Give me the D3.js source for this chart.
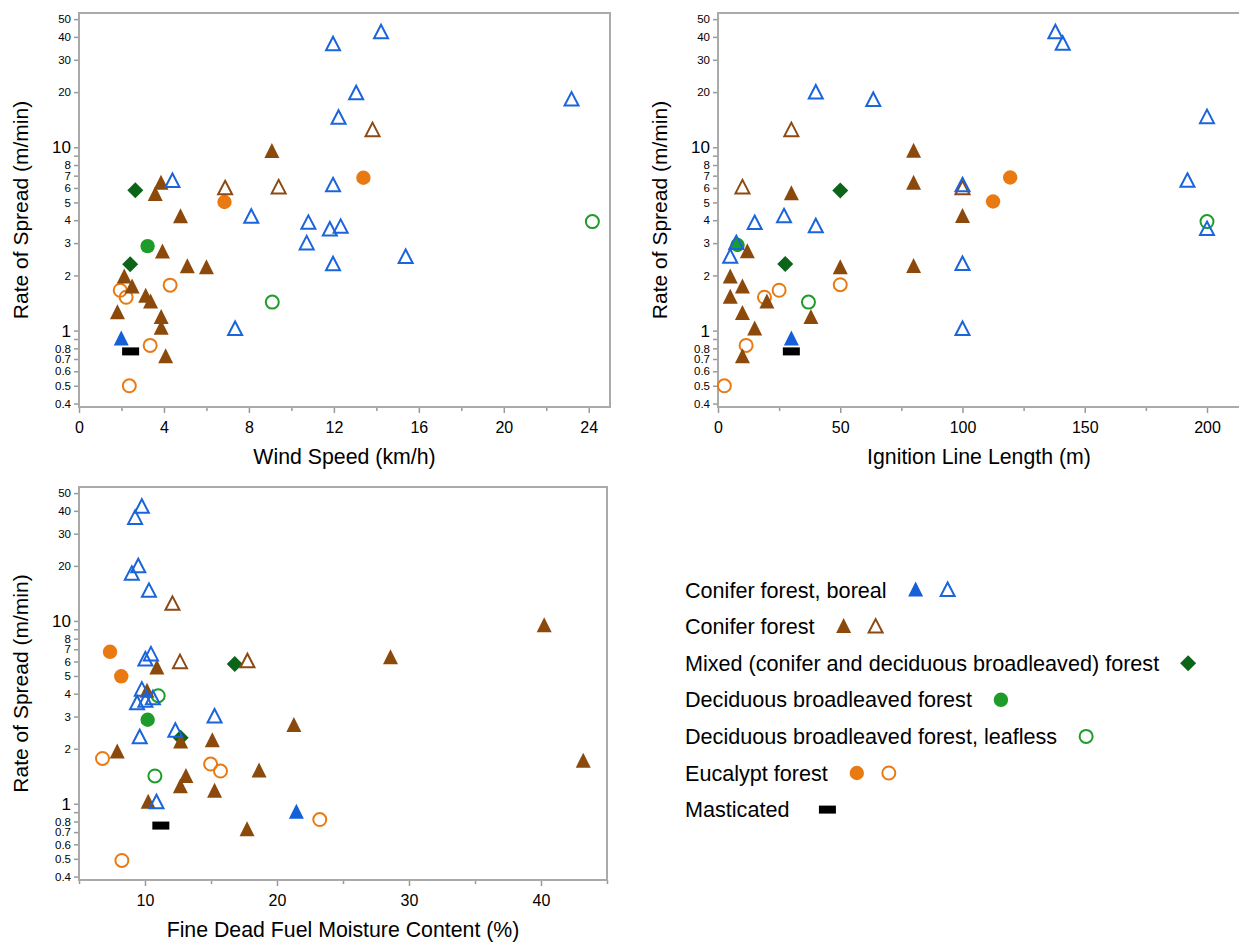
<!DOCTYPE html>
<html>
<head>
<meta charset="utf-8">
<script src="https://cdn.jsdelivr.net/npm/d3@7"></script>
<style>
  body { margin: 0; background: #fff; }
  svg text { font-family: "Liberation Sans", Arial, Helvetica, sans-serif; fill: #000; }
</style>
</head>
<body>
<svg id="chart" width="1239" height="944"></svg>
<script>
// fire observations: [x value, rate of spread (m/min), fuel type code]
const windSpeed = [
  [11.96,36.5,'BO'],[14.22,42.4,'BO'],[13.05,19.7,'BO'],[23.19,18.2,'BO'],[12.22,14.5,'BO'],
  [4.40,6.55,'BO'],[11.96,6.2,'BO'],[8.11,4.18,'BO'],[10.8,3.87,'BO'],[11.81,3.56,'BO'],
  [12.32,3.68,'BO'],[10.72,2.99,'BO'],[11.96,2.30,'BO'],[15.38,2.52,'BO'],[7.35,1.02,'BO'],
  [1.99,0.90,'BF'],
  [9.08,9.47,'CF'],[3.86,6.36,'CF'],[3.59,5.53,'CF'],[4.78,4.18,'CF'],[3.93,2.68,'CF'],
  [5.10,2.23,'CF'],[6.0,2.20,'CF'],[2.13,1.96,'CF'],[2.50,1.73,'CF'],[3.14,1.54,'CF'],
  [3.37,1.43,'CF'],[1.81,1.25,'CF'],[3.87,1.18,'CF'],[3.87,1.03,'CF'],[4.08,0.72,'CF'],
  [13.82,12.4,'CO'],[6.88,5.97,'CO'],[9.40,6.04,'CO'],
  [13.39,6.82,'EF'],[6.85,5.03,'EF'],
  [4.29,1.77,'EO'],[1.94,1.66,'EO'],[2.22,1.52,'EO'],[3.35,0.83,'EO'],[2.37,0.50,'EO'],
  [3.23,2.89,'DB'],
  [9.10,1.43,'DL'],[24.17,3.93,'DL'],
  [2.65,5.82,'MX'],[2.41,2.30,'MX'],
  [2.43,0.77,'MA']
]

const ignitionLength = [
  [138,42.4,'BO'],[141,36.7,'BO'],[40,19.9,'BO'],[63.5,18.1,'BO'],[200,14.6,'BO'],
  [192,6.56,'BO'],[100,6.2,'BO'],[27,4.2,'BO'],[15,3.86,'BO'],[40,3.71,'BO'],
  [200,3.58,'BO'],[7.5,3.0,'BO'],[5,2.53,'BO'],[100,2.31,'BO'],[100,1.02,'BO'],
  [30,0.90,'BF'],
  [80,9.5,'CF'],[80,6.37,'CF'],[30,5.57,'CF'],[100,4.19,'CF'],[12,2.69,'CF'],
  [50,2.2,'CF'],[80,2.24,'CF'],[5,1.96,'CF'],[10,1.73,'CF'],[5,1.52,'CF'],
  [20,1.43,'CF'],[10,1.24,'CF'],[38,1.18,'CF'],[15,1.02,'CF'],[10,0.72,'CF'],
  [30,12.4,'CO'],[10,6.04,'CO'],[100,5.98,'CO'],
  [119.5,6.84,'EF'],[112.5,5.06,'EF'],
  [50,1.78,'EO'],[25,1.66,'EO'],[19,1.52,'EO'],[11.5,0.83,'EO'],[2.6,0.50,'EO'],
  [8,2.93,'DB'],
  [37,1.43,'DL'],[200,3.93,'DL'],
  [50,5.81,'MX'],[27.5,2.31,'MX'],
  [30,0.77,'MA']
]

const fuelMoisture = [
  [9.76,42.1,'BO'],[9.25,36.6,'BO'],[9.49,19.9,'BO'],[9.0,18.1,'BO'],[10.3,14.6,'BO'],
  [10.45,6.56,'BO'],[10.03,6.15,'BO'],[9.76,4.21,'BO'],[10.6,3.78,'BO'],[10.03,3.66,'BO'],
  [9.4,3.55,'BO'],[15.27,3.0,'BO'],[12.3,2.51,'BO'],[9.6,2.31,'BO'],[10.87,1.02,'BO'],
  [21.47,0.90,'BF'],
  [40.24,9.4,'CF'],[28.6,6.28,'CF'],[10.9,5.53,'CF'],[10.15,4.12,'CF'],[21.28,2.68,'CF'],
  [15.1,2.21,'CF'],[12.7,2.18,'CF'],[7.9,1.92,'CF'],[43.2,1.71,'CF'],[18.64,1.51,'CF'],
  [13.1,1.41,'CF'],[12.68,1.24,'CF'],[15.27,1.17,'CF'],[10.24,1.02,'CF'],[17.73,0.72,'CF'],
  [12.08,12.4,'CO'],[12.65,5.95,'CO'],[17.76,6.02,'CO'],
  [7.35,6.78,'EF'],[8.2,4.98,'EF'],
  [6.78,1.77,'EO'],[14.97,1.65,'EO'],[15.72,1.51,'EO'],[23.24,0.82,'EO'],[8.25,0.49,'EO'],
  [10.2,2.88,'DB'],
  [11.0,3.9,'DL'],[10.75,1.42,'DL'],
  [16.8,5.82,'MX'],[12.7,2.30,'MX'],
  [11.2,0.76,'MA']
]

const yTicks = [0.4,0.5,0.6,0.7,0.8,0.9,1,2,3,4,5,6,7,8,9,10,20,30,40,50]
const windTicks = [0,4,8,12,16,20,24]
const windMinor = [2,6,10,14,18,22]
const ignitionTicks = [0,50,100,150,200]
const ignitionMinor = [25,75,125,175]
const moistureTicks = [10,20,30,40]
const moistureMinor = [5,15,25,35,45]

const legendRows = [
  ['Conifer forest, boreal', ['BF','BO']],
  ['Conifer forest', ['CF','CO']],
  ['Mixed (conifer and deciduous broadleaved) forest', ['MX']],
  ['Deciduous broadleaved forest', ['DB']],
  ['Deciduous broadleaved forest, leafless', ['DL']],
  ['Eucalypt forest', ['EF','EO']],
  ['Masticated', ['MA']]
]

const drawOrder = ['DB','DL','MX','EF','EO','MA','CF','CO','BF','BO']

const styles = {
  BF: {shape:'tri', fill:true, color:'#1560d8'},
  BO: {shape:'tri', fill:false, color:'#1a64dc'},
  CF: {shape:'tri', fill:true, color:'#8b4a0c'},
  CO: {shape:'tri', fill:false, color:'#8b4a14'},
  MX: {shape:'diamond', fill:true, color:'#0b6418'},
  DB: {shape:'circle', fill:true, color:'#1e9c2a'},
  DL: {shape:'circle', fill:false, color:'#1e9c2a'},
  EF: {shape:'circle', fill:true, color:'#e97a12'},
  EO: {shape:'circle', fill:false, color:'#e97a12'},
  MA: {shape:'rect', fill:true, color:'#000000'}
}

let svg = d3.select('#chart')

function drawMarker(g, code, cx, cy){
  let s = styles[code]
  let m
  if(s.shape=='tri'){
    let p = s.fill ? [[0,-8.5],[7.5,6.5],[-7.5,6.5]] : [[0,-7.5],[7,6],[-7,6]]
    m = g.append('path').attr('d', d3.line()(p) + 'Z')
  } else if(s.shape=='circle'){
    m = g.append('circle').attr('r', s.fill ? 7.2 : 6.5)
  } else if(s.shape=='diamond'){
    m = g.append('path').attr('d', 'M0,-8L8,0L0,8L-8,0Z')
  } else {
    m = g.append('rect').attr('x',-8.5).attr('y',-4).attr('width',17).attr('height',8)
  }
  m.attr('transform','translate('+cx+','+cy+')')
  if(s.fill){
    m.attr('fill', s.color).attr('stroke','none')
  } else {
    m.attr('fill','none').attr('stroke', s.color).attr('stroke-width',2)
  }
}

function drawPanel(p){
  let g = svg.append('g')
  let x = d3.scaleLinear().domain(p.xDomain).range([p.left, p.right])
  let y = d3.scaleLog().domain([0.383, 54]).range([p.bottom, p.top])

  // y axis
  let ya = g.append('g')
    .attr('transform','translate('+p.left+',0)')
    .call(d3.axisLeft(y).tickValues(yTicks).tickSize(5).tickPadding(3)
      .tickFormat(function(d){ return (d==0.9 || d==9) ? '' : String(d) }))
  ya.select('.domain').remove()
  ya.selectAll('line').attr('stroke','#999').attr('stroke-width',1.5)
  ya.selectAll('text')
    .attr('font-size', function(d){ return (d==1 || d==10) ? 17 : 11.5 })
    .attr('fill','#000')

  // x axis
  let xa = g.append('g')
    .attr('transform','translate(0,'+p.bottom+')')
    .call(d3.axisBottom(x).tickValues(p.xTicks).tickSize(6).tickPadding(9).tickFormat(d3.format('d')))
  xa.select('.domain').remove()
  xa.selectAll('line').attr('stroke','#999').attr('stroke-width',1.5)
  xa.selectAll('text').attr('font-size',16).attr('fill','#000')

  let xm = g.append('g')
    .attr('transform','translate(0,'+p.bottom+')')
    .call(d3.axisBottom(x).tickValues(p.xMinor).tickSize(4).tickFormat(''))
  xm.select('.domain').remove()
  xm.selectAll('line').attr('stroke','#999').attr('stroke-width',1.5)

  // frame
  g.append('rect')
    .attr('x',p.left).attr('y',p.top)
    .attr('width',p.right-p.left).attr('height',p.bottom-p.top)
    .attr('fill','none').attr('stroke','#aaa').attr('stroke-width',2)

  // titles
  g.append('text')
    .attr('x',(p.left+p.right)/2).attr('y',p.bottom+57)
    .attr('text-anchor','middle').attr('font-size',21.3)
    .text(p.xTitle)
  g.append('text')
    .attr('transform','translate('+(p.left-51)+','+((p.top+p.bottom)/2)+') rotate(-90)')
    .attr('text-anchor','middle').attr('font-size',21)
    .text('Rate of Spread (m/min)')

  // points
  let pts = g.append('g')
  drawOrder.forEach(function(code){
    p.data.filter(function(d){ return d[2]==code }).forEach(function(d){
      drawMarker(pts, code, x(d[0]), y(d[1]))
    })
  })
}

drawPanel({data: windSpeed, xDomain:[0,25], left:79, right:610, top:13, bottom:407,
  xTicks: windTicks, xMinor: windMinor, xTitle:'Wind Speed (km/h)'})
drawPanel({data: ignitionLength, xDomain:[0,213.5], left:718, right:1240, top:13, bottom:407,
  xTicks: ignitionTicks, xMinor: ignitionMinor, xTitle:'Ignition Line Length (m)'})
drawPanel({data: fuelMoisture, xDomain:[5,45], left:79, right:607, top:487, bottom:880,
  xTicks: moistureTicks, xMinor: moistureMinor, xTitle:'Fine Dead Fuel Moisture Content (%)'})

// legend
let lg = svg.append('g')
legendRows.forEach(function(row,i){
  let cy = 590 + i*36.6
  let t = lg.append('text')
    .attr('x',685).attr('y',cy+7.5)
    .attr('font-size',21.6)
    .text(row[0])
  let w = t.node().getComputedTextLength()
  row[1].forEach(function(code,j){
    let off = styles[code].shape=='rect' ? 38 : 29
    drawMarker(lg, code, 685 + w + off + j*32, cy)
  })
})
</script>
</body>
</html>
